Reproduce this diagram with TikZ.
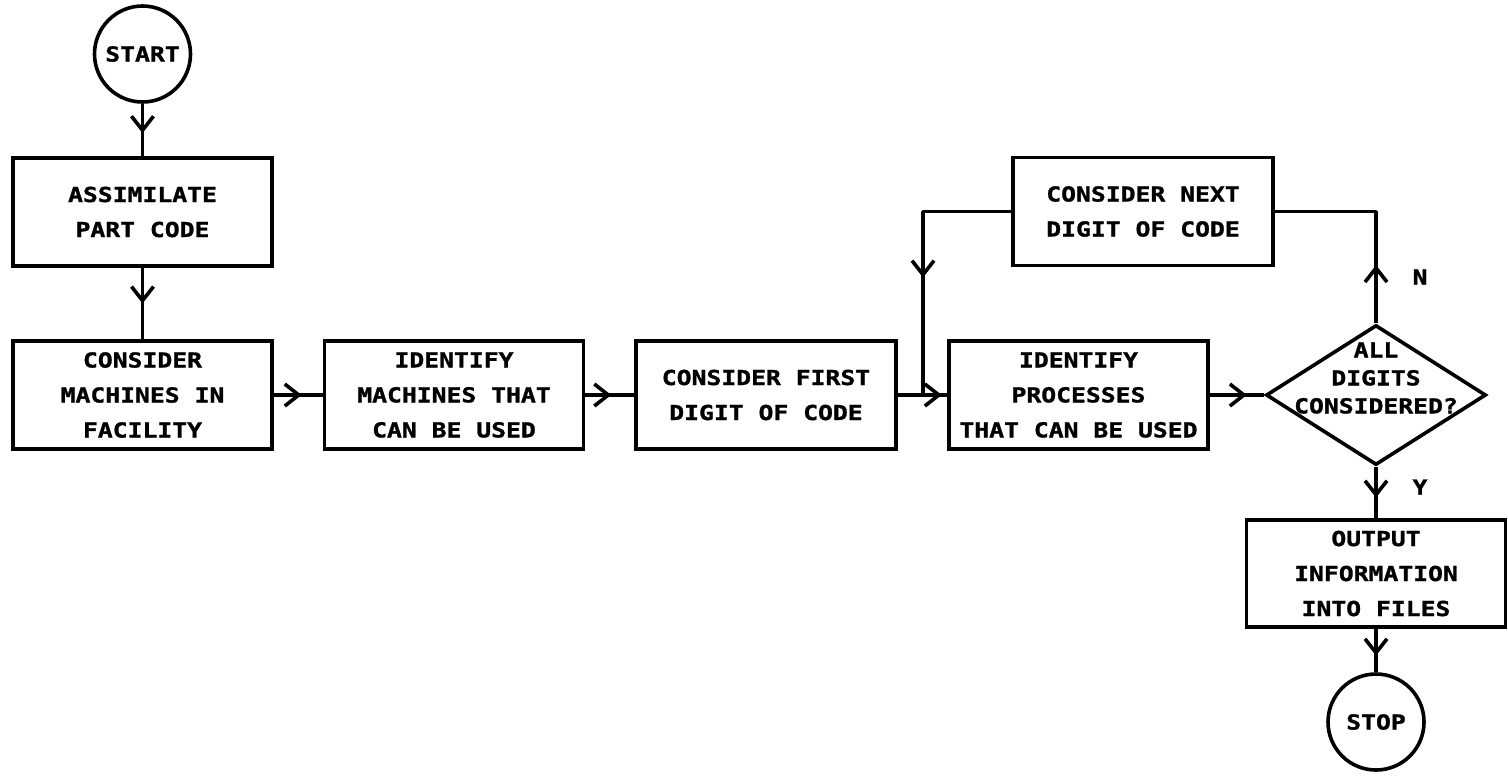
\documentclass[tikz,border=0pt]{standalone}
\usepackage{fontspec}
\newfontfamily\plotfont[FakeStretch=1.2, BoldFeatures={FakeBold=1.3}]{DejaVu Sans Mono}
\usetikzlibrary{shapes.geometric,arrows.meta,decorations.markings}
\tikzset{
  lw/.style={line width=1.8pt},
  plottext/.style={font=\plotfont\bfseries\fontsize{10.3}{17.5}\selectfont, align=center},
  stepbox/.style={draw, lw, rectangle, inner sep=0pt, minimum width=129.5pt,
    minimum height=54pt, plottext},
  terminal/.style={draw, lw, circle, inner sep=0pt, minimum size=48pt, plottext},
  decision/.style={draw, lw, diamond, inner sep=0pt, minimum width=110pt, minimum height=70pt},
  qtext/.style={plottext, font=\plotfont\bfseries\fontsize{10.3}{14}\selectfont, inner sep=0pt},
  link/.style={lw, line cap=round},
  flow/.style={lw, postaction={decorate}, decoration={markings,
    mark=at position #1 with {\arrow{Straight Barb[length=7pt,width=11pt]}}}},
}
\begin{document}
\begin{tikzpicture}[x=0.5pt, y=-0.5pt]
  \useasboundingbox (0,0) rectangle (1508,778);

  % terminals
  \node[terminal] (start) at (142.5,54) {START};
  \node[terminal] (stop)  at (1376,722) {STOP};

  % process boxes
  \node[stepbox] (asm) at (142.5,212) {ASSIMILATE\\PART CODE};
  \node[stepbox] (cm)  at (142.5,395) {CONSIDER\\MACHINES IN\\FACILITY};
  \node[stepbox] (im)  at (454,395)   {IDENTIFY\\MACHINES THAT\\CAN BE USED};
  \node[stepbox, minimum width=130pt] (fd) at (766,395) {CONSIDER FIRST\\DIGIT OF CODE};
  \node[stepbox] (ip)  at (1078.5,395) {IDENTIFY\\PROCESSES\\THAT CAN BE USED};
  \node[stepbox, minimum width=130pt] (nd) at (1143,211.5) {CONSIDER NEXT\\DIGIT OF CODE};
  \node[stepbox, minimum height=53.5pt] (out) at (1376,573.5) {OUTPUT\\INFORMATION\\INTO FILES};

  % decision
  \node[decision] (dg) at (1376,395) {};
  \node[qtext] (dgtext) at (1376,378) {ALL\\DIGITS\\CONSIDERED?};

  % branch labels
  \node[plottext] (lbn) at (1420,277) {N};
  \node[plottext] (lby) at (1420,487) {Y};

  % loop corners
  \coordinate (cnw) at (923,211.5);
  \coordinate (cj)  at (923,395);
  \coordinate (cne) at (1376,211.5);

  % main flow
  \draw[flow=0.56] (start.south) -- (asm.north);
  \draw[flow=0.5]  (asm.south) -- (cm.north);
  \draw[flow=0.57] (cm.east) -- (im.west);
  \draw[flow=0.53] (im.east) -- (fd.west);
  \draw[flow=0.89] (fd.east) -- (ip.west);
  \draw[flow=0.68] (ip.east) -- (dg.west);
  \draw[flow=0.6]  (dg.south) -- (out.north);
  \draw[flow=0.62] (out.south) -- (stop.north);

  % loop back for the next digit
  \draw[flow=0.52] (dg.north) -- (cne);
  \draw[link] (cne) -- (nd.east);
  \draw[link] (nd.west) -- (cnw);
  \draw[flow=0.36] (cnw) -- (cj);
\end{tikzpicture}
\end{document}
